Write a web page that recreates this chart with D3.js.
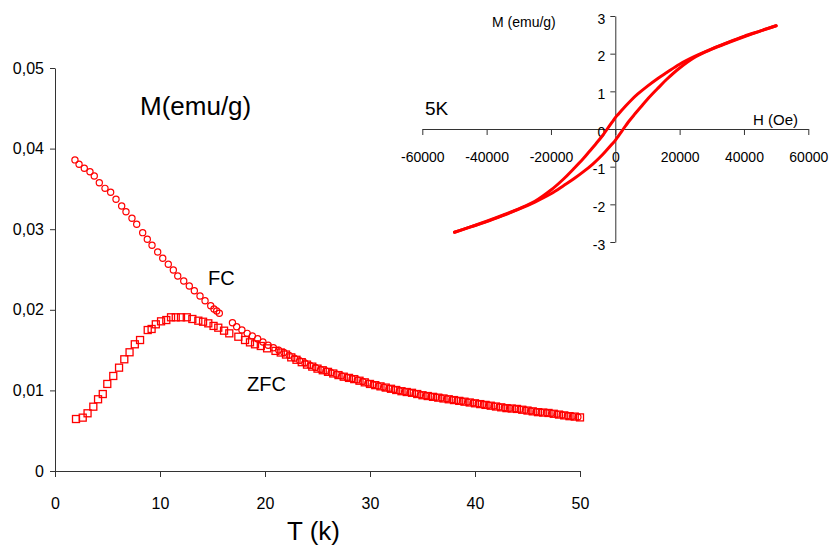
<!DOCTYPE html>
<html>
<head>
<meta charset="utf-8">
<script src="https://cdn.jsdelivr.net/npm/d3@7"></script>
<style>
  html, body { margin: 0; padding: 0; background: #fff; }
  svg { display: block; }
  text { font-family: Arial, "Liberation Sans", sans-serif; fill: #000; }
</style>
</head>
<body>
<svg id="chart" width="829" height="545"></svg>
<script>
// ---------- Main chart data: T (K) and M (emu/g) ----------
const zfcT = [2.0, 2.64, 3.1, 3.65, 4.1, 4.55, 4.98, 5.55, 6.1, 6.6, 7.1, 7.6, 8.1, 8.83, 9.2, 9.6, 10.1, 10.6, 11.05, 11.5,
  12.0, 12.55, 13.08, 13.65, 14.1, 14.6, 15.1, 15.55, 16.1, 16.6, 17.46, 18.1, 18.57, 19.05, 19.6, 20.2,
  21.0, 21.5, 22.0, 22.5, 23.0, 23.5, 24.0, 24.5, 25.0, 25.5, 26.0, 26.5, 27.0, 27.5, 28.0, 28.5, 29.0, 29.5,
  30.0, 30.5, 31.0, 31.5, 32.0, 32.5, 33.0, 33.5, 34.0, 34.5, 35.0, 35.5, 36.0, 36.5, 37.0, 37.5, 38.0, 38.5,
  39.0, 39.5, 40.0, 40.5, 41.0, 41.5, 42.0, 42.5, 43.0, 43.5, 44.0, 44.5, 45.0, 45.5, 46.0, 46.5, 47.0, 47.5,
  48.0, 48.5, 49.0, 49.5, 50.0];
const zfcM = [0.00645, 0.00662, 0.00716, 0.00798, 0.0089, 0.00955, 0.0108, 0.01179, 0.01282, 0.01386, 0.01473, 0.01572, 0.01625, 0.01749, 0.01762, 0.0182, 0.01857, 0.01873, 0.01907, 0.01907,
  0.01907, 0.01907, 0.01886, 0.01865, 0.01852, 0.01832, 0.018, 0.01778, 0.01741, 0.01708, 0.01666, 0.01625, 0.01596, 0.01572, 0.01551, 0.01522,
  0.0149, 0.0147, 0.01445, 0.0141, 0.0138, 0.0135, 0.0132, 0.01295, 0.0127, 0.0125, 0.0123, 0.0121, 0.0119, 0.0117, 0.01155, 0.0114, 0.0112, 0.0110,
  0.0108, 0.01065, 0.0105, 0.01035, 0.0102, 0.01005, 0.0099, 0.0098, 0.0097, 0.00955, 0.0094, 0.0093, 0.0092, 0.0091, 0.0090, 0.0089, 0.0088, 0.0087,
  0.0086, 0.0085, 0.0084, 0.0083, 0.0082, 0.0081, 0.0080, 0.0079, 0.0078, 0.00775, 0.0077, 0.0076, 0.0075, 0.0074, 0.0073, 0.00725, 0.0072, 0.0071,
  0.0070, 0.0069, 0.0068, 0.00675, 0.00665];

const fcT = [1.9, 2.29, 2.79, 3.33, 3.74, 4.22, 4.76, 5.3, 5.81, 6.35, 6.76, 7.33, 7.78, 8.35, 8.79, 9.24, 9.78, 10.26, 10.79, 11.27,
  11.69, 12.26, 12.79, 13.27, 13.81, 14.29, 14.83, 15.14, 15.4, 15.65,
  16.9, 17.3, 17.8, 18.3, 18.8, 19.3, 19.8, 20.3, 20.8, 21.3, 21.8, 22.3, 22.8, 23.3, 23.8, 24.3, 24.8, 25.3, 25.8, 26.3,
  26.8, 27.3, 27.8, 28.3, 28.8, 29.3, 29.8, 30.3, 30.8, 31.3, 31.8, 32.3, 32.8, 33.3, 33.8, 34.3, 34.8, 35.3, 35.8, 36.3,
  36.8, 37.3, 37.8, 38.3, 38.8, 39.3, 39.8, 40.3, 40.8, 41.3, 41.8, 42.3, 42.8, 43.3, 43.8, 44.3, 44.8, 45.3, 45.8, 46.3,
  46.8, 47.3, 47.8, 48.3, 48.8, 49.3, 49.8];
const fcM = [0.0386, 0.03805, 0.03756, 0.03713, 0.0366, 0.03577, 0.03507, 0.03458, 0.03371, 0.03288, 0.03217, 0.03135, 0.03061, 0.02957, 0.02875, 0.028, 0.02717, 0.02639, 0.02565, 0.02494,
  0.02419, 0.02357, 0.02295, 0.02237, 0.02171, 0.02113, 0.02051, 0.0201, 0.01985, 0.01957,
  0.0184, 0.0179, 0.0175, 0.01708, 0.01675, 0.0164, 0.0160, 0.0156, 0.0153, 0.0150, 0.0147, 0.01435, 0.0140, 0.0137, 0.0134, 0.0131, 0.01285, 0.0126, 0.0124, 0.0122,
  0.0120, 0.0118, 0.0116, 0.01145, 0.0113, 0.0111, 0.0109, 0.0107, 0.01055, 0.0104, 0.01025, 0.0101, 0.00995, 0.00985, 0.00975, 0.0096, 0.00945, 0.00935, 0.00925, 0.00915,
  0.00905, 0.00895, 0.00885, 0.00875, 0.00865, 0.00855, 0.00845, 0.00835, 0.00825, 0.00815, 0.00805, 0.00795, 0.00785, 0.00778, 0.00772, 0.00765, 0.00755, 0.00745, 0.00735, 0.00728,
  0.00722, 0.00715, 0.00705, 0.00695, 0.00685, 0.00678, 0.0067];

const mainXTicks = [0, 10, 20, 30, 40, 50];
const mainYTicks = [0, 0.01, 0.02, 0.03, 0.04, 0.05];

// ---------- Inset: hysteresis loop at 5K ----------
// descending branch (+50000 -> -50000)
const downH = [50000, 45000, 40000, 35000, 30000, 25000, 20000, 16000, 13000, 10000, 7000, 5000, 3000, 1000, 0,
  -1000, -2500, -4000, -6000, -8000, -10000, -13000, -16000, -20000, -25000, -30000, -35000, -40000, -45000, -50000];
const downM = [2.74, 2.60, 2.46, 2.30, 2.13, 1.94, 1.72, 1.50, 1.33, 1.14, 0.93, 0.77, 0.59, 0.40, 0.30,
  0.18, 0.0, -0.18, -0.39, -0.59, -0.79, -1.06, -1.32, -1.62, -1.92, -2.12, -2.29, -2.45, -2.60, -2.74];
// ascending branch (-50000 -> +50000)
const upH = [-50000, -45000, -40000, -35000, -30000, -25000, -20000, -16000, -13000, -10000, -7000, -5000, -3000, -1000, 0,
  1000, 2500, 4000, 6000, 8000, 10000, 13000, 16000, 20000, 25000, 30000, 35000, 40000, 45000, 50000];
const upM = [-2.74, -2.60, -2.46, -2.30, -2.13, -1.94, -1.72, -1.50, -1.33, -1.14, -0.93, -0.77, -0.59, -0.40, -0.30,
  -0.18, 0.0, 0.18, 0.39, 0.59, 0.79, 1.06, 1.32, 1.62, 1.92, 2.12, 2.29, 2.45, 2.60, 2.74];

const insetXTicks = [-60000, -40000, -20000, 0, 20000, 40000, 60000];
const insetYTicks = [-3, -2, -1, 0, 1, 2, 3];

// ---------- Drawing ----------
const svg = d3.select("#chart");
const RED = "#ff0000";
const AXIS = "#333";

const x = d3.scaleLinear().domain([0, 50]).range([55, 580]);
const y = d3.scaleLinear().domain([0, 0.05]).range([471, 68]);

const commaFmt = d3.formatLocale({decimal: ",", thousands: ".", grouping: [3], currency: ["", ""]}).format(".2f");
const yFmt = d => d === 0 ? "0" : commaFmt(d);

const gx = svg.append("g").attr("transform", `translate(0,${y(0)})`)
  .call(d3.axisBottom(x).tickValues(mainXTicks).tickSize(6).tickSizeOuter(0).tickPadding(21).tickFormat(d3.format("d")));
const gy = svg.append("g").attr("transform", `translate(${x(0)},0)`)
  .call(d3.axisLeft(y).tickValues(mainYTicks).tickSize(5).tickSizeOuter(0).tickPadding(6).tickFormat(yFmt));
[gx, gy].forEach(g => {
  g.select(".domain").attr("stroke", AXIS);
  g.selectAll(".tick line").attr("stroke", AXIS);
  g.selectAll("text").attr("font-size", 16).attr("font-family", "Arial, 'Liberation Sans', sans-serif").attr("fill", "#000");
});

// ZFC squares
const zfc = zfcT.map((t, i) => ({t, m: zfcM[i]}));
svg.append("g").selectAll("rect").data(zfc).join("rect")
  .attr("x", d => x(d.t) - 3.5).attr("y", d => y(d.m) - 3.5)
  .attr("width", 7).attr("height", 7)
  .attr("fill", "none").attr("stroke", RED).attr("stroke-width", 1.3);

// FC circles
const fc = fcT.map((t, i) => ({t, m: fcM[i]}));
svg.append("g").selectAll("circle").data(fc).join("circle")
  .attr("cx", d => x(d.t)).attr("cy", d => y(d.m)).attr("r", 3.1)
  .attr("fill", "none").attr("stroke", RED).attr("stroke-width", 1.2);

// Main labels
svg.append("text").attr("x", 140).attr("y", 115).attr("font-size", 26).text("M(emu/g)");
svg.append("text").attr("x", 208).attr("y", 285).attr("font-size", 20).text("FC");
svg.append("text").attr("x", 247).attr("y", 391).attr("font-size", 20).text("ZFC");
svg.append("text").attr("x", 287).attr("y", 540).attr("font-size", 26).text("T (k)");

// ---------- Inset ----------
const ix = d3.scaleLinear().domain([-60000, 60000]).range([422.3, 808.3]);
const iy = d3.scaleLinear().domain([-3, 3]).range([242, 16]);

const igx = svg.append("g").attr("transform", `translate(0,${iy(0)})`)
  .call(d3.axisBottom(ix).tickValues(insetXTicks).tickSize(6).tickSizeOuter(0).tickPadding(17).tickFormat(d => String(d)));
const igy = svg.append("g").attr("transform", `translate(${ix(0)},0)`)
  .call(d3.axisLeft(iy).tickValues(insetYTicks).tickSize(5).tickSizeOuter(0).tickPadding(5).tickFormat(d => String(d)));
[igx, igy].forEach(g => {
  g.select(".domain").attr("stroke", AXIS);
  g.selectAll(".tick line").attr("stroke", AXIS);
  g.selectAll("text").attr("font-size", 14).attr("font-family", "Arial, 'Liberation Sans', sans-serif").attr("fill", "#000");
});
igy.selectAll("text").attr("dy", "0.5em");

const line = d3.line().x(d => ix(d.h)).y(d => iy(d.m)).curve(d3.curveCatmullRom);
svg.append("path").datum(downH.map((h, i) => ({h, m: downM[i]})))
  .attr("d", line).attr("fill", "none").attr("stroke", RED).attr("stroke-width", 3).attr("stroke-linejoin", "round").attr("stroke-linecap", "round");
svg.append("path").datum(upH.map((h, i) => ({h, m: upM[i]})))
  .attr("d", line).attr("fill", "none").attr("stroke", RED).attr("stroke-width", 3).attr("stroke-linejoin", "round").attr("stroke-linecap", "round");

svg.append("text").attr("x", 492).attr("y", 27).attr("font-size", 14).text("M (emu/g)");
svg.append("text").attr("x", 753).attr("y", 125).attr("font-size", 15).text("H (Oe)");
svg.append("text").attr("x", 425).attr("y", 115).attr("font-size", 19).text("5K");
</script>
</body>
</html>
